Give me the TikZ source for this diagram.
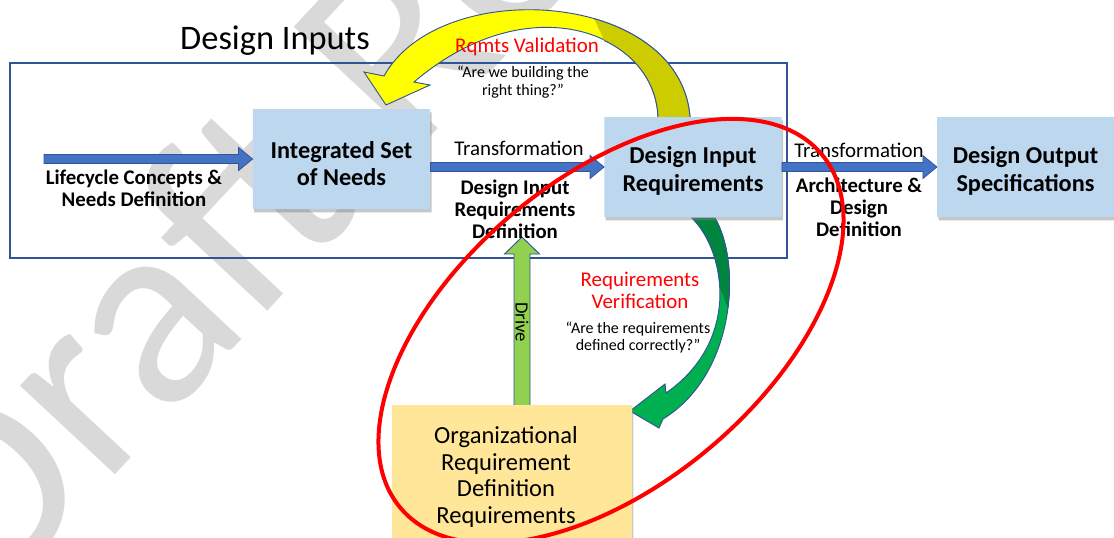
\documentclass[tikz,border=0pt]{standalone}
\usepackage{fontspec}
\setmainfont{Carlito}
\usetikzlibrary{shapes.misc,shadows,calc}

\begin{document}
\begin{tikzpicture}[x=0.75pt,y=-0.75pt,
  docbox/.style={chamfered rectangle, chamfered rectangle corners=north east,
    chamfered rectangle xsep=8pt, inner sep=0pt,
    drop shadow={shadow xshift=1pt, shadow yshift=-2.5pt, opacity=.45}},
  needbox/.style={docbox, fill=boxblue, minimum width=133pt, minimum height=75pt},
  orgbox/.style={docbox, fill=boxyellow, minimum width=180pt, minimum height=105pt},
  needtext/.style={align=center, inner sep=0pt, font=\fontsize{18.2}{20.5}\selectfont\bfseries},
  orgtext/.style={align=center, inner sep=0pt, font=\fontsize{18.4}{20}\selectfont},
  lbl/.style={align=center, inner sep=0pt, font=\fontsize{15.6}{16.5}\selectfont\bfseries},
  plain/.style={align=center, inner sep=0pt, font=\fontsize{15.7}{16.5}\selectfont},
  redtxt/.style={plain, text=red},
  quote/.style={align=center, inner sep=0pt, font=\fontsize{12}{12.9}\selectfont},
  bluearrow/.style={fill=arrowblue, draw=edgeblue, line width=.6pt},
  edge/.style={draw=edgeblue, line width=.7pt}]
\definecolor{boxblue}{HTML}{BDD7EE}
\definecolor{boxyellow}{HTML}{FFE699}
\definecolor{arrowblue}{HTML}{4472C4}
\definecolor{edgeblue}{HTML}{2F5597}
\definecolor{drivegreen}{HTML}{92D050}
\definecolor{valyellow}{HTML}{FFFF00}
\definecolor{valolive}{HTML}{CCCC00}
\definecolor{vergreen}{HTML}{00B050}
\definecolor{verdark}{HTML}{00853E}
\useasboundingbox (0,0) rectangle (1114,537);
\clip (0,0) rectangle (1114,537);
% watermark
\node[rotate=47, anchor=base west, inner sep=0pt, text=black!15,
  font=\fontsize{204}{204}\selectfont] (wm) at (-11,610) {Draft Review};
% frame and title
\draw[edgeblue, line width=1pt] (10,63) rectangle (787,258);
\node[font=\fontsize{25.8}{25.8}\selectfont, inner sep=0pt] (ttl) at (275,41) {Design Inputs};
% positions of the boxes
\path (341.5,159) coordinate (intc) (693,167) coordinate (dirc)
  (1026.5,167) coordinate (dosc) (512,475) coordinate (orgc);
% validation arrow
\draw[edge, fill=valyellow] (690,117) .. controls (680,-10) and (440,-25) .. (384,76)
  -- (364,72) -- (386,105) -- (430,85) -- (414,82)
  .. controls (530,-17) and (655,33) .. (658,117) -- cycle;
\fill[valolive] (690,117) .. controls (686,66.2) and (645.2,33.3) .. (594.1,18.6)
  -- (604.2,40.5) .. controls (636.1,55.5) and (656.8,83.5) .. (658,117) -- cycle;
\draw[edge] (690,117) .. controls (686,66.2) and (645.2,33.3) .. (594.1,18.6);
\draw[edge] (604.2,40.5) .. controls (636.1,55.5) and (656.8,83.5) .. (658,117);
% verification arrow
\draw[edge, fill=vergreen] (715,218) .. controls (742,265) and (735,375) .. (663,419)
  -- (659,428) -- (630,411) -- (665,384) -- (666,393)
  .. controls (742,340) and (725,250) .. (692,218) -- cycle;
\fill[verdark] (715,218) .. controls (727.2,239.2) and (732.4,273.1) .. (727.9,308)
  -- (719.9,287.8) .. controls (718.5,258.6) and (706.9,232.4) .. (692,218) -- cycle;
\draw[edge] (715,218) .. controls (727.2,239.2) and (732.4,273.1) .. (727.9,308);
\draw[edge] (719.9,287.8) .. controls (718.5,258.6) and (706.9,232.4) .. (692,218);
% drive arrow
\coordinate (drvs) at (522,410);
\coordinate (drvt) at (522,237);
\draw[edge, fill=drivegreen] ($(drvs)+(-8,0)$) -- ($(drvt)+(-8,17)$) -- ($(drvt)+(-17.5,17)$)
  -- (drvt) -- ($(drvt)+(17.5,17)$) -- ($(drvt)+(8,17)$) -- ($(drvs)+(8,0)$) -- cycle;
\node[rotate=-90, inner sep=0pt, font=\fontsize{14}{14}\selectfont] (drv) at (522,322) {Drive};
% boxes
\node[needbox] (int) at (intc) {};
\node[needbox] (dir) at (dirc) {};
\node[needbox, minimum width=134pt] (dos) at (dosc) {};
\node[orgbox] (org) at (orgc) {};
\node[needtext] (intt) at ($(int.center)+(0,4.5)$) {Integrated Set\\of Needs};
\node[needtext] (dirt) at ($(dir.center)+(0,4)$) {Design Input\\Requirements};
\node[needtext] (dost) at ($(dos.center)+(-1,4)$) {Design Output\\Specifications};
\node[orgtext] (orgt) at ($(org.center)+(-6,2)$) {Organizational\\Requirement\\Definition\\Requirements};
% transformation arrows
\coordinate (lcs) at (44,159);
\draw[bluearrow] ($(lcs)+(0,-4.5)$) -- ($(int.west)+(-14,-4.5)$) -- ($(int.west)+(-14,-11.5)$)
  -- (int.west) -- ($(int.west)+(-14,11.5)$) -- ($(int.west)+(-14,4.5)$) -- ($(lcs)+(0,4.5)$) -- cycle;
\draw[bluearrow] ($(int.east |- dir.west)+(0,-4.5)$) -- ($(dir.west)+(-14,-4.5)$) -- ($(dir.west)+(-14,-11.5)$)
  -- (dir.west) -- ($(dir.west)+(-14,11.5)$) -- ($(dir.west)+(-14,4.5)$) -- ($(int.east |- dir.west)+(0,4.5)$) -- cycle;
\draw[bluearrow] ($(dir.east)+(0,-4.5)$) -- ($(dos.west)+(-14,-4.5)$) -- ($(dos.west)+(-14,-11.5)$)
  -- (dos.west) -- ($(dos.west)+(-14,11.5)$) -- ($(dos.west)+(-14,4.5)$) -- ($(dir.east)+(0,4.5)$) -- cycle;
% labels
\node[lbl] (lcd) at (134,188) {Lifecycle Concepts \&\\Needs Definition};
\node[plain] (tr1) at (519,148) {Transformation};
\node[lbl] (did) at (515,209.5) {Design Input\\Requirements\\Definition};
\node[plain] (tr2) at (859,150) {Transformation};
\node[lbl] (add) at (859,207.5) {Architecture \&\\Design\\Definition};
\node[redtxt] (val) at (527,47) {Rqmts Validation};
\node[quote] (valq) at (523,82) {“Are we building the\\right thing?”};
\node[redtxt] (ver) at (640,290) {Requirements\\Verification};
\node[quote] (verq) at (638,337.5) {“Are the requirements\\defined correctly?”};
% scope ellipse
\draw[red, line width=3pt, rotate around={40:(611,331)}] (611,331) ellipse [x radius=275, y radius=153];
\end{tikzpicture}
\end{document}
